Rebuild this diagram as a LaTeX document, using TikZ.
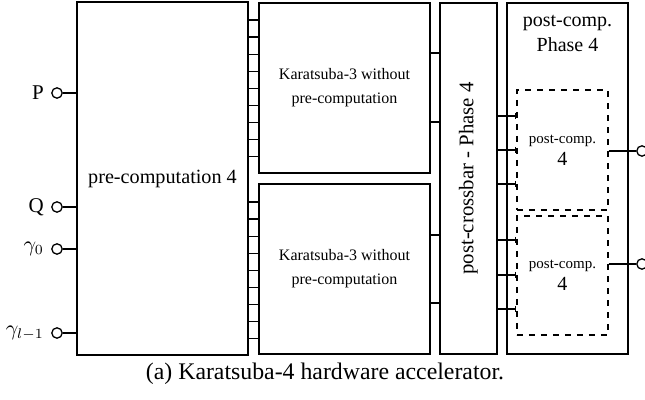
\documentclass[tikz,border=0pt]{standalone}
\usepackage{fontspec}
\setmainfont{Liberation Serif}
\usetikzlibrary{arrows.meta, positioning}

\begin{document}
\begin{tikzpicture}[
x=0.5pt, y=-0.5pt,
line width=0.65pt,
box/.style={draw,
rectangle,
inner sep=0pt,
align=center},
dbox/.style={box, dashed},
port/.style={draw, circle, fill=white, inner sep=0pt, minimum size=5.2pt},
wire/.style={line width=0.65pt},
tick/.style={-{Bar[width=3pt]}, line width=0.65pt}
]
\useasboundingbox (0,0) rectangle (645,400);

% main blocks
\node[box, minimum width=85.5pt, minimum height=176.5pt, font=\fontsize{10.1}{12}\selectfont] (pre) at (162.5,178.5) {pre-computation 4};
\node[box, minimum width=85.5pt, minimum height=85pt, font=\fontsize{8}{12}\selectfont] (kt) at (344.5,88) {Karatsuba-3 without\\pre-computation};
\node[box, minimum width=85.5pt, minimum height=85pt, font=\fontsize{8}{12}\selectfont] (kb) at (344.5,269) {Karatsuba-3 without\\pre-computation};
\node[box, minimum width=28.5pt, minimum height=175.5pt] (xbar) at (468.5,178.5) {};
\node[rotate=90, font=\fontsize{10.4}{12}\selectfont] (xlbl) at (xbar.center) {post-crossbar - Phase 4};
\node[box, minimum width=60.5pt, minimum height=175.5pt] (post) at (567.5,178.5) {};
\node[below=3pt of post.north, align=center, font=\fontsize{10}{12.5}\selectfont] (plbl) {post-comp.\\Phase 4};
\node[dbox, minimum width=45.5pt, minimum height=60pt, font=\fontsize{7.5}{11}\selectfont] (dt) at (562.5,150) {post-comp.\\{\fontsize{10}{11}\selectfont 4}};
\node[dbox, minimum width=45.5pt, minimum height=59.5pt, font=\fontsize{7.5}{11}\selectfont] (db) at (562.5,275.5) {post-comp.\\{\fontsize{10}{11}\selectfont 4}};

% inputs
\node[port, label={[font=\fontsize{10.5}{12}\selectfont]left:P}] (inp) at (57,93) {};
\node[port, label={[font=\fontsize{10.5}{12}\selectfont]left:Q}] (inq) at (57,207) {};
\node[port, label={[font=\fontsize{10.5}{12}\selectfont]left:$\gamma_0$}] (ing) at (57,249) {};
\node[port, label={[font=\fontsize{10.5}{12}\selectfont]left:$\gamma_{l-1}$}] (inl) at (57,333) {};
\foreach \n in {inp,inq,ing,inl}
  \draw[wire] (\n) -- (\n -| pre.west);

% outputs
\node[port] (outt) at (642,151) {};
\node[port] (outb) at (642,264) {};
\draw[wire] (dt.east |- outt) -- (outt);
\draw[wire] (db.east |- outb) -- (outb);

% pre-computation -> Karatsuba
\foreach \i in {0,...,8} {
  \draw[wire] (pre.east |- {0,20+17.1*\i}) -- (kt.west |- {0,20+17.1*\i});
  \draw[wire] (pre.east |- {0,202+17.1*\i}) -- (kb.west |- {0,202+17.1*\i});
}

% Karatsuba -> crossbar
\foreach \y in {53,122}
  \draw[wire] (kt.east |- {0,\y}) -- (xbar.west |- {0,\y});
\foreach \y in {235,303}
  \draw[wire] (kb.east |- {0,\y}) -- (xbar.west |- {0,\y});

% crossbar -> post-comp.
\foreach \y in {116,150,184}
  \draw[tick] (xbar.east |- {0,\y}) -- (dt.west |- {0,\y});
\foreach \y in {240,275,309}
  \draw[tick] (xbar.east |- {0,\y}) -- (db.west |- {0,\y});

\node[font=\fontsize{11.9}{13}\selectfont] (cap) at (325,374) {(a) Karatsuba-4 hardware accelerator.};

\end{tikzpicture}
\end{document}
